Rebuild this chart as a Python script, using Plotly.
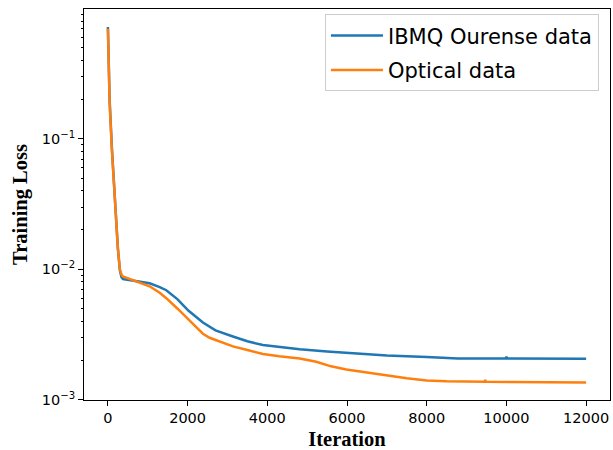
import plotly.graph_objects as go

# ---- data ----
ibmq_iter = [0, 20, 43, 100, 186, 250, 300, 340, 380, 600, 850, 1046, 1300, 1465, 1742,
             2025, 2384, 2700, 3137, 3500, 3890, 4300, 4811, 5500, 6000, 7000, 8000,
             8783, 9985, 10000, 10015, 11000, 12000]
ibmq_loss = [0.72, 0.38, 0.20, 0.085, 0.029, 0.0145, 0.0098, 0.0087, 0.0084, 0.0082, 0.0080,
             0.0078, 0.0073, 0.0069, 0.0059, 0.0048, 0.0039, 0.0034, 0.00305, 0.0028, 0.00262,
             0.00252, 0.00243, 0.00234, 0.00228, 0.00218, 0.00212, 0.00207, 0.00207, 0.00214,
             0.00207, 0.00206, 0.00206]

optical_iter = [0, 20, 43, 100, 186, 250, 300, 340, 376, 600, 850, 1046, 1300, 1465, 1742,
                2025, 2384, 2552, 2800, 3137, 3500, 3890, 4300, 4811, 5229, 5600, 5982, 6500,
                7000, 7500, 8000, 8500, 9455, 9470, 9485, 10500, 12000]
optical_loss = [0.70, 0.36, 0.19, 0.082, 0.028, 0.0145, 0.0100, 0.0091, 0.0088, 0.0083, 0.0078,
                0.0074, 0.0066, 0.0060, 0.0050, 0.0041, 0.0032, 0.00298, 0.00278, 0.00256,
                0.0024, 0.00224, 0.00215, 0.00207, 0.00195, 0.0018, 0.0017, 0.00161, 0.00153,
                0.00146, 0.00140, 0.00138, 0.00137, 0.00142, 0.00137, 0.00136, 0.00135]

x_ticks = [0, 2000, 4000, 6000, 8000, 10000, 12000]
y_ticks = [1e-3, 1e-2, 1e-1]
y_tick_labels = ["10<sup>−3</sup>", "10<sup>−2</sup>", "10<sup>−1</sup>"]
y_minor = [m * d for d in (1e-3, 1e-2, 1e-1) for m in range(2, 10)]

BLUE = "#1f77b4"
ORANGE = "#ff7f0e"

fig = go.Figure()
fig.add_trace(go.Scatter(x=ibmq_iter, y=ibmq_loss, mode="lines", name="IBMQ Ourense data",
                         line=dict(color=BLUE, width=2.5), legendgroup="a"))
fig.add_trace(go.Scatter(x=optical_iter, y=optical_loss, mode="lines", name="Optical data",
                         line=dict(color=ORANGE, width=2.5), legendgroup="b"))

fig.update_layout(
    width=613, height=450,
    margin=dict(l=84, r=3, t=9, b=50, autoexpand=False),
    paper_bgcolor="white", plot_bgcolor="white",
    font=dict(family="DejaVu Sans", size=14, color="black"),
    legend=dict(x=0.979, y=0.986, xanchor="right", yanchor="top",
                bgcolor="rgba(255,255,255,0.8)", bordercolor="#cccccc", borderwidth=1,
                font=dict(family="DejaVu Sans", size=21, color="black"),
                itemwidth=52, tracegroupgap=4),
    showlegend=True,
)
fig.update_xaxes(
    range=[-600, 12600], tickvals=x_ticks, ticktext=[str(v) for v in x_ticks],
    automargin=False,
    showgrid=False, zeroline=False, showline=True, linecolor="black", linewidth=1, mirror=True,
    ticks="outside", ticklen=5, tickwidth=1, tickcolor="black",
    tickfont=dict(family="DejaVu Sans", size=14.5, color="black"),
    title=dict(text="<b>Iteration</b>", standoff=6,
               font=dict(family="Liberation Serif", size=20.5, color="black")),
)
fig.update_yaxes(
    type="log", range=[-3.003, -0.004], tickvals=y_ticks, ticktext=y_tick_labels,
    automargin=False,
    showgrid=False, zeroline=False, showline=True, linecolor="black", linewidth=1, mirror=True,
    ticks="outside", ticklen=5, tickwidth=1, tickcolor="black",
    tickfont=dict(family="DejaVu Sans", size=14.5, color="black"),
    minor=dict(tickvals=y_minor, ticks="outside", ticklen=2.5, tickwidth=0.8, tickcolor="black",
               showgrid=False),
    title=dict(text="<b>Training Loss</b>", standoff=8,
               font=dict(family="Liberation Serif", size=20.5, color="black")),
)

fig.write_html("out.html", config={"displayModeBar": False},
               post_script="document.body.style.margin='0';")
